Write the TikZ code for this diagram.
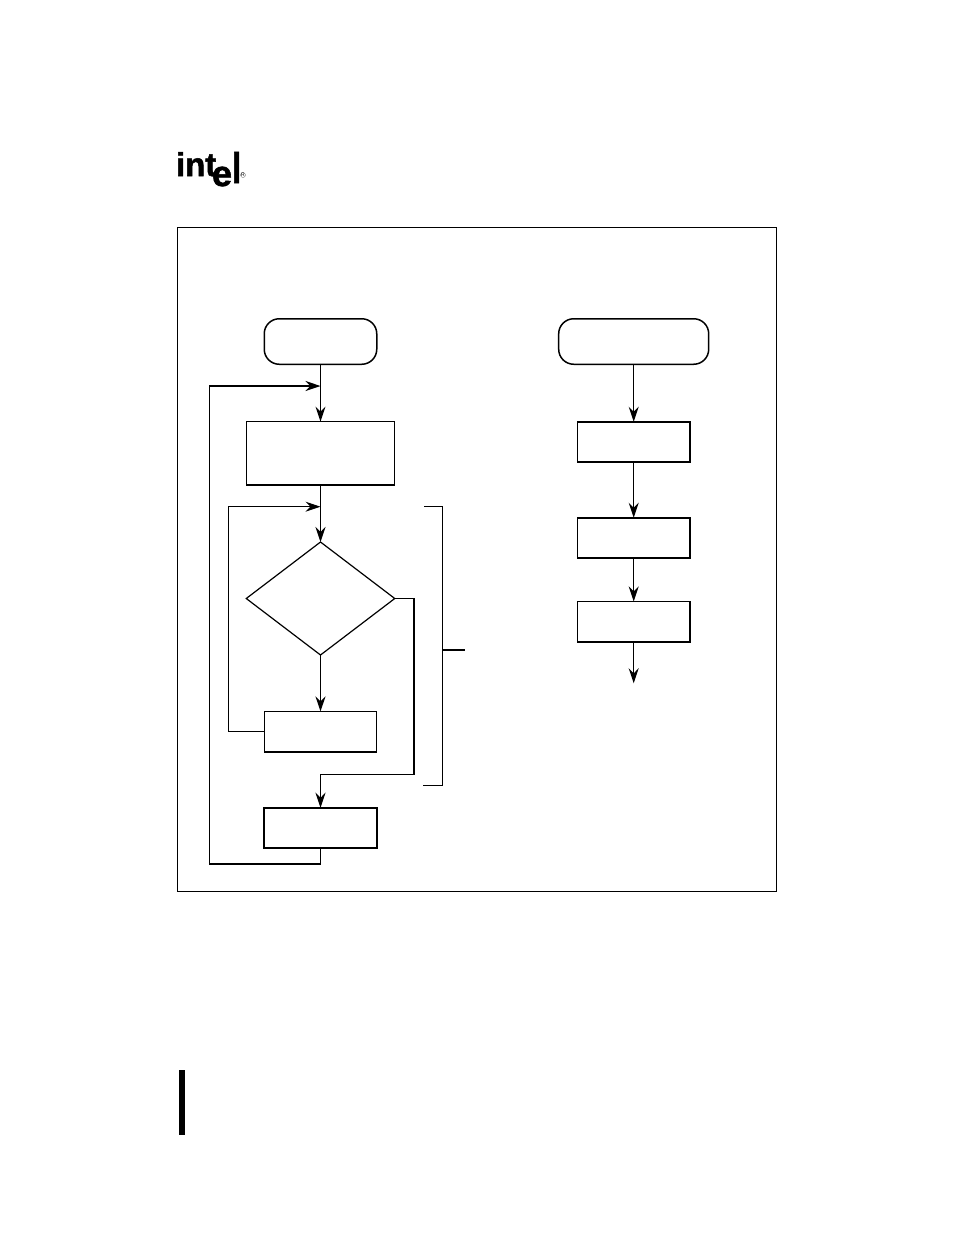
\documentclass[tikz,border=0pt]{standalone}
\usepackage{fontspec}
\setmainfont{Liberation Sans}
\newfontfamily\logofont[FakeBold=1.6]{Liberation Sans Bold}
\usetikzlibrary{arrows.meta}
\tikzset{
  x=1pt,y=-1pt,
  every node/.style={inner sep=0pt,outer sep=0pt},
  pbox/.style={draw=black,line width=1.2pt,fill=white,minimum width=#1,minimum height=40.5pt},
  tbox/.style={draw=black,line width=1.5pt,fill=white,minimum width=112.5pt,minimum height=45.5pt,rounded corners=15pt},
  conn/.style={draw=black,line width=1.3pt},
  thinconn/.style={draw=black,line width=1pt},
  arr/.style={conn,-{Stealth[length=15pt,width=10pt,inset=5pt]}},
  thinarr/.style={thinconn,-{Stealth[length=15pt,width=10pt,inset=5pt]}},
  logo/.style={font=\logofont\fontsize{33}{33}\selectfont,anchor=base west},
}
\begin{document}
\begin{tikzpicture}
\useasboundingbox (0,0) rectangle (954,1235);
\fill[white] (0,0) rectangle (954,1235);
% logo
\node[logo] (logoi) at (176,176) {int};
\node[logo,font=\logofont\fontsize{36}{36}\selectfont] (logoe) at (212,186) {e};
\node[logo,yscale=1.3,transform shape] (logol) at (232,183) {l};
\node[font=\fontsize{5}{5}\selectfont,draw=black!60,circle,line width=.3pt,minimum size=5pt] (logor) at (243,175) {R};
% frame
\node[draw=black,line width=.8pt,anchor=north west,minimum width=598.5pt,minimum height=663.5pt] (frame) at (177.7,227.7) {};
% left column
\node[tbox] (start) at (320.5,341.5) {};
\node[pbox=148.5pt,minimum height=63.3pt] (init) at (320.5,453.3) {};
\node[minimum width=148.5pt,minimum height=113pt] (dbox) at (320.5,598.5) {};
\draw[line width=1.2pt,fill=white,line join=miter] (dbox.north) -- (dbox.east) -- (dbox.south) -- (dbox.west) -- cycle;
\node[pbox=112.5pt] (body) at (320.5,731.7) {};
\node[pbox=112.5pt,line width=1.6pt] (next) at (320.5,828) {};
\coordinate (j1) at (320.5,386);
\coordinate (j2) at (320.5,506.7);
\draw[arr] (start.south) -- (init.north);
\draw[arr] (init.south) -- (dbox.north);
\draw[arr] (dbox.south) -- (body.north);
\draw[conn] (dbox.east) -| (414,774.3) -- (320.5,774.3);
\draw[arr] (320.5,774.3) -- (next.north);
\draw[thinarr] (body.west) -| (228.5,506.7) -- (j2);
\draw[arr] (next.south) |- (209.5,864) |- (j1);
% bracket
\coordinate (bt) at (424,506.7);
\coordinate (bb) at (423,785.7);
\coordinate (bm) at (442.7,650);
\coordinate (bo) at (465,650);
\draw[conn,line join=miter] (bt) -| (bm) |- (bb);
\draw[conn,line width=1.5pt] (bm) -- (bo);
% right column
\node[tbox,minimum width=150pt] (rstart) at (633.7,341.5) {};
\node[pbox=112.7pt,line width=1.6pt] (r1) at (633.7,442) {};
\node[pbox=112.7pt,line width=1.6pt] (r2) at (633.7,538) {};
\node[pbox=112.7pt,line width=1.5pt] (r3) at (633.7,621.7) {};
\coordinate (rend) at (633.7,683.3);
\draw[arr] (rstart.south) -- (r1.north);
\draw[arr] (r1.south) -- (r2.north);
\draw[arr] (r2.south) -- (r3.north);
\draw[arr] (r3.south) -- (rend);
% change bar
\fill[black] (179,1070) rectangle (185,1135);
\end{tikzpicture}
\end{document}
